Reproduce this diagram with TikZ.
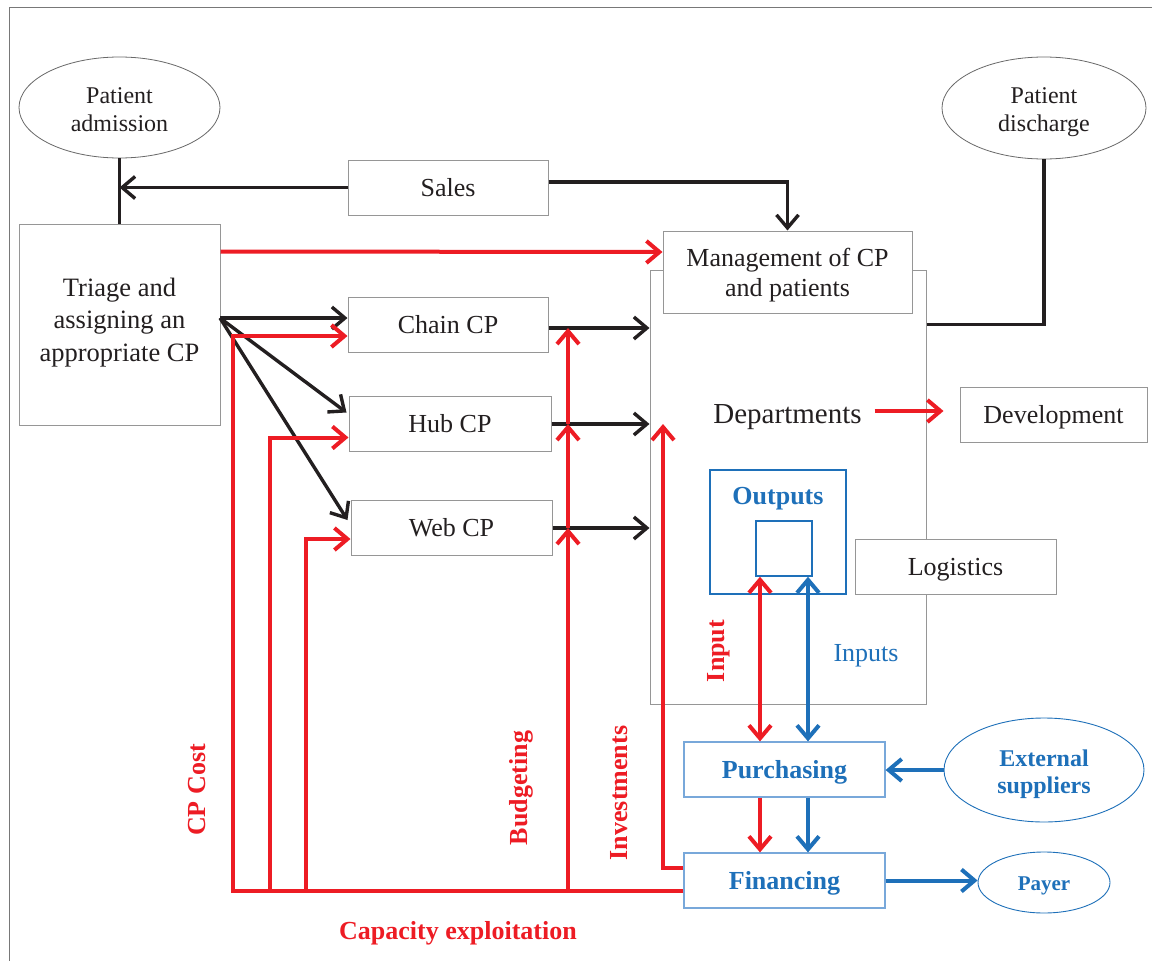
\documentclass[tikz,border=0pt]{standalone}
\usepackage{fontspec}
\setmainfont{Liberation Serif}
\usetikzlibrary{arrows.meta,shapes.geometric,calc}
\definecolor{cpred}{RGB}{237,28,36}
\definecolor{cpblue}{RGB}{30,112,185}
\definecolor{cplight}{RGB}{120,168,218}
\definecolor{framegray}{RGB}{120,120,120}
\definecolor{boxgray}{RGB}{150,150,150}
\definecolor{ovalgray}{RGB}{105,105,105}
\definecolor{ink}{RGB}{35,31,32}
\tikzset{
  txt/.style={font=\fontsize{26}{30}\selectfont, text=ink, align=center, inner sep=0pt},
  oneline/.style={text height=22pt, text depth=4.5pt},
  box/.style={txt, oneline, draw=boxgray, line width=1pt, fill=white},
  frame box/.style={draw=boxgray, line width=1pt, fill=white, inner sep=0pt},
  oval/.style={ellipse, draw=ovalgray, line width=0.8pt, fill=white, inner sep=0pt},
  ovaltext/.style={align=center, inner sep=0pt, text=ink, font=\fontsize{24}{28}\selectfont},
  bluebox/.style={oneline, draw=cplight, line width=1.2pt, fill=white, align=center, inner sep=0pt,
    text=cpblue, font=\fontsize{26}{30}\selectfont\bfseries},
  blueoval/.style={ellipse, draw=cpblue, line width=0.9pt, fill=white, inner sep=0pt},
  redlbl/.style={oneline, text=cpred, font=\fontsize{26}{30}\selectfont\bfseries, inner sep=0pt},
  barb/.tip={Straight Barb[length=13pt,width=22pt]},
  arr/.style={-barb},
  darr/.style={barb-barb},
  blk/.style={draw=ink, line width=3.4pt},
  redl/.style={draw=cpred, line width=4pt, line join=miter},
  bluel/.style={draw=cpblue, line width=4pt},
}
\begin{document}
\begin{tikzpicture}[x=1pt,y=-1pt]
\useasboundingbox (0,0) rectangle (1152,961);

% page frame
\draw[framegray, line width=1pt] (9,961) -- (9,7) -- (1152,7);

% departments block and what sits on it
\node[draw=boxgray, line width=1pt, minimum width=276, minimum height=434, inner sep=0pt] (dept) at (788,487) {};
\node[frame box, minimum width=249, minimum height=82] (mgmt) at (787.5,272) {};
\node[txt] (mgmttext) at (787.5,275) {\strut Management of CP\\and patients\strut};
\node[text=ink, inner sep=0pt, font=\fontsize{29}{33}\selectfont, text height=24.5pt, text depth=5pt] (depttext) at (787.5,413.5) {Departments};
\node[box, minimum width=187, minimum height=55] (dev) at (1053.5,414.5) {Development};
\node[box, minimum width=201, minimum height=55] (logi) at (955.5,566.5) {Logistics};
\node[draw=cpblue, line width=1.8pt, fill=white, minimum width=136, minimum height=124, inner sep=0pt] (outer) at (778,532) {};
\node[oneline, text=cpblue, font=\fontsize{26}{30}\selectfont\bfseries, inner sep=0pt] (outtext) at (778,495.5) {Outputs};
\node[draw=cpblue, line width=1.5pt, minimum width=56, minimum height=55, inner sep=0pt] (inner) at (784,548.5) {};

% patient flow
\node[oval, minimum width=201, minimum height=101] (adm) at (119.5,107.5) {};
\node[ovaltext] (admtext) at (119.5,112.2) {\strut Patient\\admission\strut};
\node[oval, minimum width=204, minimum height=102] (dis) at (1044,108) {};
\node[ovaltext] (distext) at (1044,112.2) {\strut Patient\\discharge\strut};
\node[box, minimum width=200, minimum height=55] (sales) at (448,187.5) {Sales};
\node[frame box, minimum width=201, minimum height=201] (triage) at (119.5,324.5) {};
\node[txt, font=\fontsize{26.5}{32.5}\selectfont] (triagetext) at (119.5,322) {\strut Triage and\\assigning an\\appropriate CP\strut};
\node[box, minimum width=200, minimum height=55] (chain) at (448,324.5) {Chain CP};
\node[box, minimum width=202, minimum height=55] (hub) at (450,423.5) {Hub CP};
\node[box, minimum width=201, minimum height=55] (web) at (451.5,528) {Web CP};

% support functions
\node[bluebox, minimum width=201, minimum height=55] (purch) at (784.5,769.5) {Purchasing};
\node[bluebox, minimum width=201, minimum height=55] (fin) at (784.5,880.5) {Financing};
\node[blueoval, minimum width=200, minimum height=104] (ext) at (1044,770) {};
\node[align=center, inner sep=0pt, text=cpblue, font=\fontsize{24}{27.3}\selectfont\bfseries] (exttext) at (1044,774.5) {\strut External\\suppliers\strut};
\node[blueoval, minimum width=132, minimum height=61, text=cpblue, font=\fontsize{21}{24}\selectfont\bfseries,
  text height=18pt, text depth=3pt] (payer) at (1044,882.5) {Payer};

% labels
\node[redlbl, rotate=90] (lblinput) at (716,651) {Input};
\node[oneline, text=cpblue, font=\fontsize{26}{30}\selectfont, inner sep=0pt] (lblinputs) at (866,653) {Inputs};
\node[redlbl, rotate=90] (lblcost) at (197,790) {CP Cost};
\node[redlbl, rotate=90] (lblbudget) at (518.5,788) {Budgeting};
\node[redlbl, rotate=90] (lblinv) at (619,793) {Investments};
\node[redlbl] (lblcap) at (458,930.5) {Capacity exploitation};

% junction points
\coordinate (tsrc) at (220,318);
\coordinate (lvA) at (568,328);
\coordinate (lvB) at (568,424);
\coordinate (lvC) at (568,528);
\coordinate (busL) at (233,891);
\coordinate (jHub) at (270,891);
\coordinate (jWeb) at (306,891);
\coordinate (jBud) at (568,891);
\coordinate (invTop) at (663,424);
\coordinate (redX) at (760,0);
\coordinate (blueX) at (808,0);

% black connectors
\draw[blk] (adm.south) -- (triage.north);
\draw[blk, arr] (sales.west) -- (sales.west -| adm.south);
\draw[blk, arr, line join=miter] ($(sales.east)+(0,-5.5)$) -| (mgmt.north);
\draw[blk, arr] (tsrc) -- (chain.west |- tsrc);
\draw[blk, arr] (tsrc) -- ($(hub.west)+(-2,-11)$);
\draw[blk, arr] (tsrc) -- ($(web.west)+(-3,-8)$);
\draw[blk, arr] (chain.east |- lvA) -- (dept.west |- lvA);
\draw[blk, arr] (hub.east |- lvB) -- (dept.west |- lvB);
\draw[blk, arr] (web.east |- lvC) -- (dept.west |- lvC);
\draw[blk, line join=miter] (dept.east |- chain.east) -| (dis.south);

% red connectors
\draw[redl, arr] ($(triage.north east)+(0,28)$) -- ($(mgmt.west)+(0,-20)$);
\draw[redl, arr] ($(fin.west)+(0,10.5)$) -- (busL) |- ($(chain.west)+(0,11.5)$);
\draw[redl, arr] (jHub) |- ($(hub.west)+(0,14)$);
\draw[redl, arr] (jWeb) |- ($(web.west)+(0,11)$);
\draw[redl, arr] (jBud) -- (lvC);
\draw[redl, arr] (lvC) -- (lvB);
\draw[redl, arr] (lvB) -- (lvA);
\draw[redl, arr] ($(fin.west)+(0,-12.5)$) -| (invTop);
\draw[redl, arr] ($(dev.west)+(-85,-3.5)$) -- ($(dev.west)+(-16,-3.5)$);
\draw[redl, darr] (inner.south -| redX) -- (purch.north -| redX);
\draw[redl, arr] (purch.south -| redX) -- (fin.north -| redX);

% blue connectors
\draw[bluel, darr] (inner.south -| blueX) -- (purch.north -| blueX);
\draw[bluel, arr] (purch.south -| blueX) -- (fin.north -| blueX);
\draw[bluel, arr] (ext.west) -- (purch.east |- ext.west);
\draw[bluel, arr] (fin.east) -- (payer.west |- fin.east);
\end{tikzpicture}
\end{document}
